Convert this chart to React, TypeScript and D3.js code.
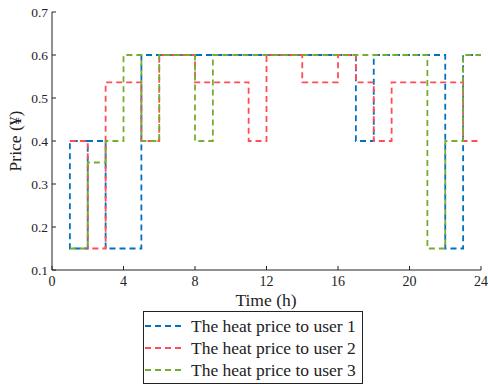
import * as d3 from "d3";

// hourly step values (segment [h, h+1]) for h = 1..23, last point at 24
const hours = d3.range(1, 25);
const user1 = [0.15, 0.4, 0.15, 0.15, 0.6, 0.6, 0.6, 0.6, 0.6, 0.6, 0.6, 0.6, 0.6, 0.6, 0.6, 0.6, 0.4, 0.6, 0.6, 0.6, 0.6, 0.15, 0.6];
const user1Lead = 0.4; // the blue curve enters hour 1 from this level
const user2 = [0.4, 0.15, 0.5365, 0.5365, 0.4, 0.6, 0.6, 0.5365, 0.5365, 0.5365, 0.4, 0.6, 0.6, 0.5365, 0.5365, 0.6, 0.5365, 0.4, 0.5365, 0.5365, 0.5365, 0.5365, 0.4];
const user3 = [0.15, 0.35, 0.4, 0.6, 0.4, 0.6, 0.6, 0.4, 0.6, 0.6, 0.6, 0.6, 0.6, 0.6, 0.6, 0.6, 0.6, 0.6, 0.6, 0.6, 0.15, 0.4, 0.6];

const xTicks = [0, 4, 8, 12, 16, 20, 24];
const yTicks = [0.1, 0.2, 0.3, 0.4, 0.5, 0.6, 0.7];
const seriesNames = ["The heat price to user 1", "The heat price to user 2", "The heat price to user 3"];
const colors = ["#0072bd", "#ff4d55", "#77ac30"];

const W = 488;
const H = 387;
const font = '"Liberation Serif", "DejaVu Serif", serif';

function stepPoints(values: number[], lead?: number): [number, number][] {
    const pts: [number, number][] = [];
    if (lead !== undefined) {
        pts.push([hours[1], lead], [hours[0], lead]);
    }
    values.forEach((v, i) => {
        pts.push([hours[i], v], [hours[i + 1], v]);
    });
    return pts;
}

export default function App() {
    const x = d3.scaleLinear().domain([0, 24]).range([52, 481]);
    const y = d3.scaleLinear().domain([0.1, 0.7]).range([270, 12]);

    const line = d3
        .line<[number, number]>()
        .x((d) => x(d[0]))
        .y((d) => y(d[1]));

    const series = [stepPoints(user1, user1Lead), stepPoints(user2), stepPoints(user3)];
    const axisColor = "#222";
    const txt = { fontFamily: font };

    return (
        <svg
            width={W}
            height={H}
            style={{ position: "absolute", left: 0, top: 0, background: "#fff" }}
        >
            {/* plot lines */}
            {series.map((pts, i) => (
                <path
                    key={i}
                    d={line(pts) || ""}
                    fill="none"
                    stroke={colors[i]}
                    strokeWidth={1.8}
                    strokeDasharray="6,4"
                />
            ))}

            {/* axes */}
            <line x1={x(0)} x2={x(24)} y1={y(0.1)} y2={y(0.1)} stroke={axisColor} strokeWidth={1} />
            <line x1={x(0)} x2={x(0)} y1={y(0.1)} y2={y(0.7)} stroke={axisColor} strokeWidth={1} />
            {xTicks.map((t) => (
                <g key={"x" + t}>
                    <line x1={x(t)} x2={x(t)} y1={y(0.1)} y2={y(0.1) - 4} stroke={axisColor} />
                    <text x={x(t)} y={y(0.1) + 16} textAnchor="middle" fontSize={14} fill={axisColor} style={txt}>
                        {t}
                    </text>
                </g>
            ))}
            {yTicks.map((t) => (
                <g key={"y" + t}>
                    <line x1={x(0)} x2={x(0) + 4} y1={y(t)} y2={y(t)} stroke={axisColor} />
                    <text x={x(0) - 4} y={y(t) + 5} textAnchor="end" fontSize={13.5} fill={axisColor} style={txt}>
                        {t.toFixed(1)}
                    </text>
                </g>
            ))}
            <text x={266} y={306} textAnchor="middle" fontSize={17.5} fill={axisColor} style={txt}>
                Time (h)
            </text>
            <text
                transform={`translate(21,${y(0.4)}) rotate(-90)`}
                textAnchor="middle"
                fontSize={17.5}
                fill={axisColor}
                style={txt}
            >
                Price (¥)
            </text>

            {/* legend */}
            <rect x={143.5} y={311.5} width={219} height={72} fill="#fff" stroke={axisColor} strokeWidth={1} />
            {seriesNames.map((name, i) => (
                <g key={name} transform={`translate(0,${326 + i * 22})`}>
                    <line x1={145} x2={182} y1={0} y2={0} stroke={colors[i]} strokeWidth={1.8} strokeDasharray="6,4" />
                    <text x={191} y={5.5} fontSize={17.5} fill={axisColor} style={txt}>
                        {name}
                    </text>
                </g>
            ))}
        </svg>
    );
}
